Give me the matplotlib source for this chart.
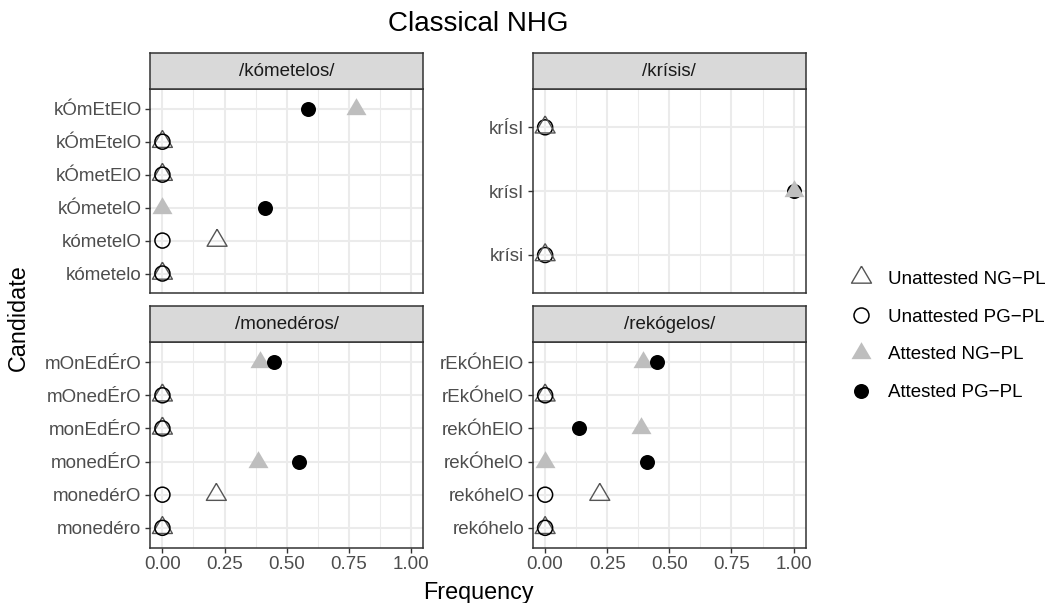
import numpy as np
import matplotlib
matplotlib.use("Agg")
import matplotlib.pyplot as plt
from matplotlib.lines import Line2D

plt.rcParams['font.family'] = ['Liberation Sans', 'DejaVu Sans']

# Data: candidates listed top to bottom for each panel
panel_titles = ['/kómetelos/', '/krísis/', '/monedéros/', '/rekógelos/']

kometelos_cands = ['kÓmEtElO', 'kÓmEtelO', 'kÓmetElO', 'kÓmetelO', 'kómetelO', 'kómetelo']
kometelos_ng = [0.778, 0, 0, 0, 0.22, 0]
kometelos_pg = [0.585, 0, 0, 0.412, 0, 0]
kometelos_att = [True, False, False, True, False, False]

krisis_cands = ['krÍsI', 'krísI', 'krísi']
krisis_ng = [0, 1.0, 0]
krisis_pg = [0, 1.0, 0]
krisis_att = [False, True, False]

monederos_cands = ['mOnEdÉrO', 'mOnedÉrO', 'monEdÉrO', 'monedÉrO', 'monedérO', 'monedéro']
monederos_ng = [0.392, 0, 0, 0.385, 0.217, 0]
monederos_pg = [0.448, 0, 0, 0.549, 0, 0]
monederos_att = [True, False, False, True, False, False]

rekogelos_cands = ['rEkÓhElO', 'rEkÓhelO', 'rekÓhElO', 'rekÓhelO', 'rekóhelO', 'rekóhelo']
rekogelos_ng = [0.394, 0, 0.384, 0, 0.22, 0]
rekogelos_pg = [0.45, 0, 0.138, 0.41, 0, 0]
rekogelos_att = [True, False, True, True, False, False]

panels = [
    (kometelos_cands, kometelos_ng, kometelos_pg, kometelos_att),
    (krisis_cands, krisis_ng, krisis_pg, krisis_att),
    (monederos_cands, monederos_ng, monederos_pg, monederos_att),
    (rekogelos_cands, rekogelos_ng, rekogelos_pg, rekogelos_att),
]
# triangles drawn on top of circles only in the krisis panel
tri_on_top = [False, True, False, False]

# equilateral-ish triangle centred on its centroid (like ggplot shape 2/17)
TRI = [(0, 11.33), (-10, -5.67), (10, -5.67), (0, 11.33)]
TRI_S = 16.3 ** 2
CIRC_S = 10.8 ** 2

W, H = 1052, 603
fig = plt.figure(figsize=(W / 100, H / 100), dpi=100)

def fbox(x0, y0, x1, y1):
    # pixel box (top-left origin) -> figure fraction rect
    return [x0 / W, 1 - y1 / H, (x1 - x0) / W, (y1 - y0) / H]

# panel pixel boxes: x0, y0(top), x1, y1(bottom)
boxes = [
    (150, 89, 423.3, 293.3),
    (532.7, 89, 806, 293.3),
    (150, 342.3, 423.3, 547.7),
    (532.7, 342.3, 806, 547.7),
]
strip_h = 36

grid_col = '#EBEBEB'
border_col = '#333333'
FS = 13.5

for k, (cands, ng, pg, att) in enumerate(panels):
    x0, y0, x1, y1 = boxes[k]
    ax = fig.add_axes(fbox(x0, y0, x1, y1))
    n = len(cands)
    ypos = np.arange(n)[::-1]

    ax.set_xlim(-0.05, 1.05)
    ax.set_ylim(-0.6, n - 0.4)
    ax.set_xticks([0, 0.25, 0.5, 0.75, 1.0])
    ax.set_xticks([0.125, 0.375, 0.625, 0.875], minor=True)
    ax.set_yticks(ypos)
    ax.set_yticklabels(cands)
    ax.grid(True, which='major', color=grid_col, lw=1.5, zorder=0)
    ax.grid(True, which='minor', axis='x', color=grid_col, lw=0.75, zorder=0)
    ax.set_axisbelow(True)
    ax.tick_params(axis='both', which='major', length=3.6, width=1.0, color=border_col,
                   labelsize=FS, labelcolor='#4D4D4D', pad=2.5)
    ax.tick_params(axis='x', which='minor', length=0)
    if k < 2:
        ax.tick_params(axis='x', which='major', length=0, labelbottom=False)
    else:
        ax.set_xticklabels(['0.00', '0.25', '0.50', '0.75', '1.00'])
    for sp in ax.spines.values():
        sp.set_color(border_col)
        sp.set_linewidth(1.1)

    ng = np.array(ng)
    pg = np.array(pg)
    att = np.array(att)
    z_tri, z_circ = (4, 3) if tri_on_top[k] else (3, 4)
    # unattested: open symbols
    ax.scatter(ng[~att], ypos[~att], s=TRI_S, marker=TRI, facecolors='none',
               edgecolors='#555555', linewidths=1.0, zorder=z_tri, clip_on=False)
    ax.scatter(pg[~att], ypos[~att], s=CIRC_S, marker='o', facecolors='none',
               edgecolors='black', linewidths=1.1, zorder=z_circ, clip_on=False)
    # attested: filled symbols
    ax.scatter(ng[att], ypos[att], s=TRI_S, marker=TRI, color='#BEBEBE',
               linewidths=0, zorder=z_tri, clip_on=False)
    ax.scatter(pg[att], ypos[att], s=CIRC_S, marker='o', color='black',
               linewidths=0, zorder=z_circ, clip_on=False)

    # strip
    sax = fig.add_axes(fbox(x0, y0 - strip_h, x1, y0))
    sax.set_facecolor('#D9D9D9')
    sax.set_xticks([])
    sax.set_yticks([])
    for sp in sax.spines.values():
        sp.set_color(border_col)
        sp.set_linewidth(1.1)
    sax.text(0.5, 0.5, panel_titles[k], ha='center', va='center',
             fontsize=FS, color='#1A1A1A', transform=sax.transAxes)

fig.text(478 / W, 1 - 24 / H, 'Classical NHG', ha='center', va='center', fontsize=20)
fig.text(478 / W, 1 - 592 / H, 'Frequency', ha='center', va='center', fontsize=16.8)
fig.text(18 / W, 1 - 318 / H, 'Candidate', ha='center', va='center', fontsize=16.8,
         rotation=90)

handles = [
    Line2D([0], [0], marker=TRI, ls='', markersize=16.3, markerfacecolor='none',
           markeredgecolor='#555555', markeredgewidth=1.0, label='Unattested NG\u2212PL'),
    Line2D([0], [0], marker='o', ls='', markersize=10.8, markerfacecolor='none',
           markeredgecolor='black', markeredgewidth=1.1, label='Unattested PG\u2212PL'),
    Line2D([0], [0], marker=TRI, ls='', markersize=16.3, markerfacecolor='#BEBEBE',
           markeredgewidth=0, label='Attested NG\u2212PL'),
    Line2D([0], [0], marker='o', ls='', markersize=10.8, markerfacecolor='black',
           markeredgewidth=0, label='Attested PG\u2212PL'),
]
fig.legend(handles=handles, loc='center left', bbox_to_anchor=(840 / W, 1 - 336 / H),
           frameon=False, fontsize=FS, labelspacing=1.1, handlelength=1.4,
           handletextpad=0.75, borderaxespad=0)

fig.savefig('out.png', dpi=100)
